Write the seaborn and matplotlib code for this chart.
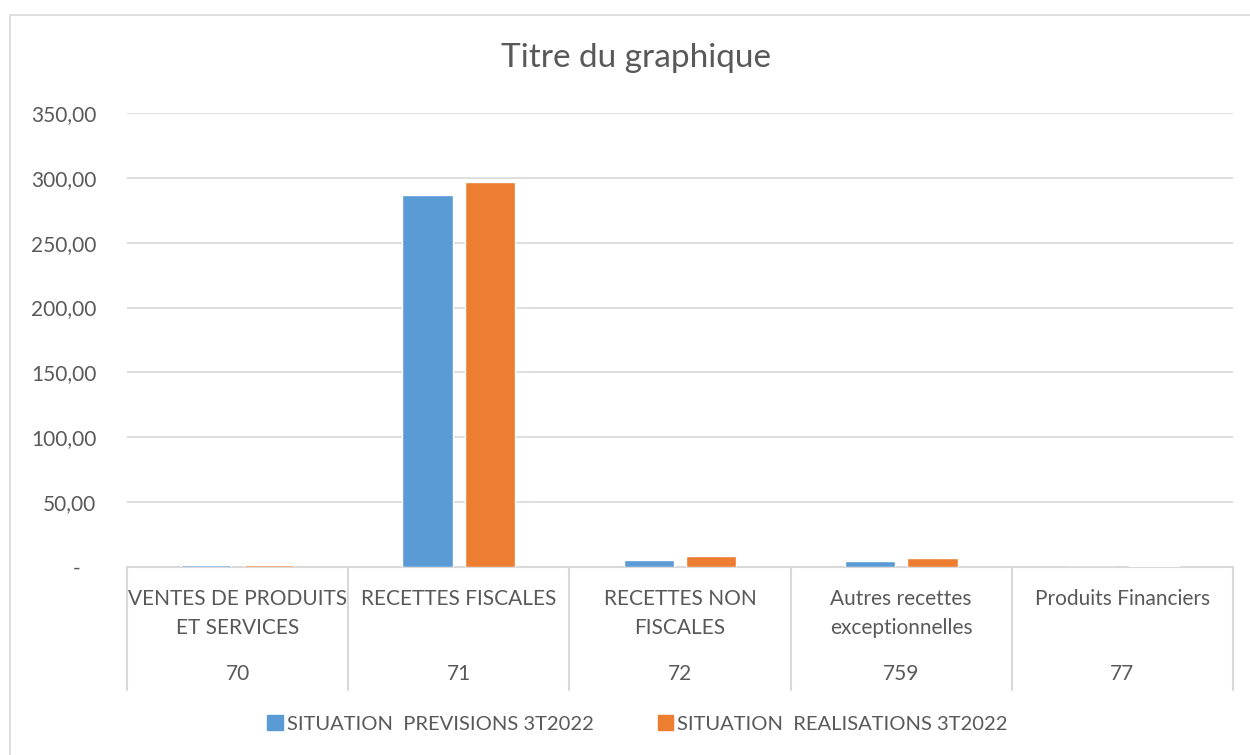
import pandas as pd
import matplotlib.pyplot as plt
import matplotlib.transforms as mtransforms
from matplotlib.patches import Rectangle
import seaborn as sns


# Data
categories = ["VENTES DE PRODUITS\nET SERVICES", "RECETTES FISCALES",
              "RECETTES NON\nFISCALES", "Autres recettes\nexceptionnelles",
              "Produits Financiers"]
codes = ["70", "71", "72", "759", "77"]
series = ["SITUATION  PREVISIONS 3T2022", "SITUATION  REALISATIONS 3T2022"]
previsions = [1.5, 286.8, 5.4, 4.9, 0.1]
realisations = [1.2, 296.8, 8.5, 6.9, 0.4]
y_ticks = [0, 50, 100, 150, 200, 250, 300, 350]

df = pd.DataFrame({
    "cat": categories * 2,
    "serie": [series[0]] * 5 + [series[1]] * 5,
    "val": previsions + realisations,
})

text_col = "#595959"
grid_col = "#D9D9D9"

sns.set_theme(style="white")
plt.rcParams["font.family"] = ["Lato", "DejaVu Sans"]

fig = plt.figure(figsize=(12.5, 7.55), dpi=100)
ax = fig.add_axes([127 / 1250, 1 - 567 / 755, (1233 - 127) / 1250, (567 - 113) / 755])

sns.barplot(data=df, x="cat", y="val", hue="serie", order=categories,
            palette=["#5B9BD5", "#ED7D31"], width=0.566, gap=0.2,
            saturation=1, ax=ax, legend=False, zorder=3)

ax.set_xlim(-0.5, 4.5)
ax.set_ylim(0, 350)
ax.set_yticks(y_ticks)
ax.set_yticklabels(["-   "] + [f"{v},00" for v in y_ticks[1:]],
                   color=text_col, fontsize=15)
ax.tick_params(axis="y", length=0, pad=22)
ax.set_xticks([])
ax.set_xlabel("")
ax.set_ylabel("")
for y in y_ticks[1:]:
    ax.axhline(y, color=grid_col, lw=1.2, zorder=0)
for s in ["left", "right", "top"]:
    ax.spines[s].set_visible(False)
ax.spines["bottom"].set_color(grid_col)
ax.spines["bottom"].set_linewidth(1.5)
ax.spines["bottom"].set_zorder(1)

# two level category axis
trans = mtransforms.blended_transform_factory(ax.transData, ax.transAxes)
for i in range(6):
    ax.plot([i - 0.5, i - 0.5], [0, -0.271], transform=trans, color=grid_col,
            lw=1.5, clip_on=False)
for i, (c, code) in enumerate(zip(categories, codes)):
    ax.text(i, -0.048, c, transform=trans, ha="center", va="top",
            fontsize=15, color=text_col, linespacing=1.6)
    ax.text(i, -0.236, code, transform=trans, ha="center", va="center",
            fontsize=15, color=text_col)

fig.text(0.509, 1 - 58 / 755, "Titre du graphique", ha="center", va="center",
         fontsize=24, color=text_col)

handles = [Rectangle((0, 0), 1, 1, color=c) for c in ["#5B9BD5", "#ED7D31"]]
fig.legend(handles, series, loc="center", bbox_to_anchor=(0.51, 1 - 724 / 755),
           ncol=2, frameon=False, fontsize=14.5, handlelength=0.75,
           handleheight=0.75, handletextpad=0.2, columnspacing=3.2,
           labelcolor=text_col)

# chart area border
fig.add_artist(Rectangle((10 / 1250, -0.1), 1.2, 1 - 15 / 755 + 0.1,
                         transform=fig.transFigure, fill=False,
                         edgecolor=grid_col, lw=1.2))

fig.savefig("out.png", dpi=100)
